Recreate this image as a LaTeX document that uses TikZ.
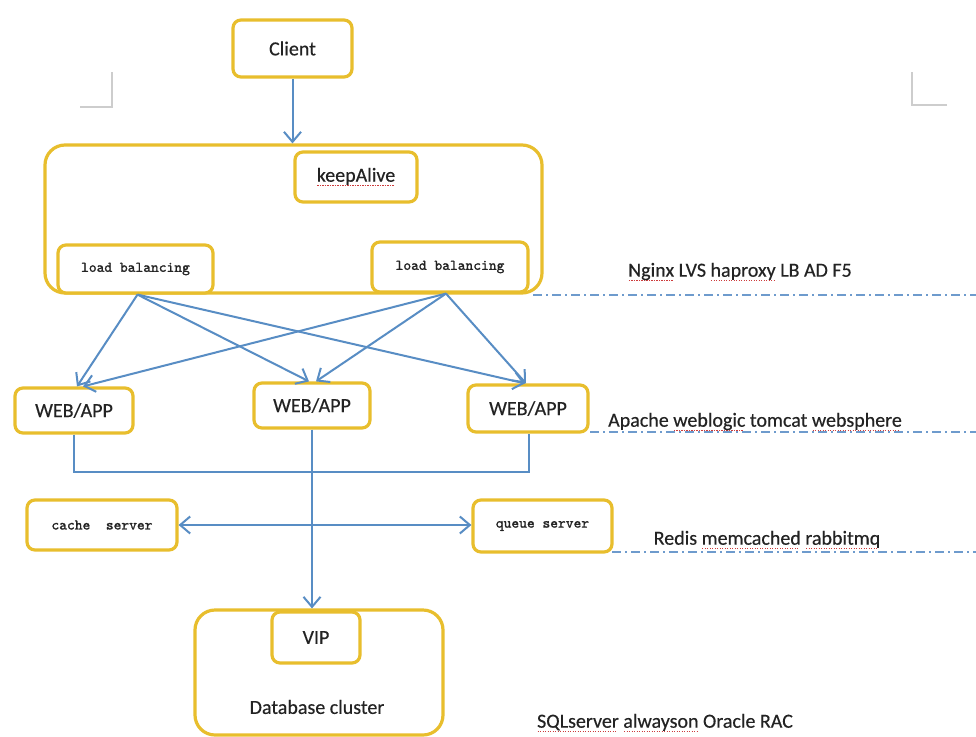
\documentclass[tikz,border=0pt]{standalone}
\usepackage{fontspec}
\setmainfont{Carlito}[FakeBold=0.4]
\newfontfamily\boxmono{lmmono10-regular}[Extension=.otf, FakeBold=1.4]
\usetikzlibrary{arrows.meta}

\definecolor{boxgold}{RGB}{232,190,45}
\definecolor{linkblue}{RGB}{88,141,196}
\definecolor{tierblue}{RGB}{110,155,205}
\definecolor{inkgray}{RGB}{35,35,35}
\definecolor{spellred}{RGB}{205,60,60}
\definecolor{cropgray}{RGB}{205,205,205}

% red dotted proofing underline under a word
\newcommand\spell[1]{\setbox0=\hbox{#1}\rlap{\color{spellred}\leaders\hbox to 2.5pt{\hss\rule[-4.5pt]{1.2pt}{1pt}\hss}\hskip\wd0}\box0\relax}

\tikzset{
  box/.style={draw=boxgold, line width=3.2pt, rounded corners=8pt, fill=white,
    inner sep=0pt, text=inkgray, font=\fontsize{20}{24}\selectfont},
  monobox/.style={box, font=\boxmono\fontsize{14.8}{18}\selectfont},
  group/.style={draw=boxgold, line width=3.2pt, rounded corners=20pt, inner sep=0pt},
  link/.style={draw=linkblue, line width=2pt, -{Straight Barb[length=10pt,width=17pt]}},
  duallink/.style={draw=linkblue, line width=2pt,
    {Straight Barb[length=10pt,width=17pt]}-{Straight Barb[length=10pt,width=17pt]}},
  bus/.style={draw=linkblue, line width=2pt},
  tier/.style={draw=tierblue, line width=1.8pt, dash pattern=on 9pt off 4pt on 2pt off 4pt},
  note/.style={text=inkgray, font=\fontsize{20}{24}\selectfont, inner sep=0pt},
  cropline/.style={draw=cropgray, line width=1.5pt},
}

\begin{document}
\begin{tikzpicture}[x=1pt,y=-1pt]
  \useasboundingbox (0,0) rectangle (976,736);
  \fill[white] (0,0) rectangle (976,736);

  % corner marks
  \draw[cropline] (80,107) -- (112,107) -- (112,72);
  \draw[cropline] (947,105) -- (912,105) -- (912,72);

  % tier separators
  \draw[tier] (533,295) -- (976,295);
  \draw[tier] (590,432) -- (976,432);
  \draw[tier] (612,552) -- (976,552);

  % client
  \node[box, minimum width=119pt, minimum height=57pt] (client) at (292.5,48.5) {Client};

  % load balancing tier
  \node[group, minimum width=497pt, minimum height=148pt] (lbgroup) at (293.5,219) {};
  \node[box, minimum width=122pt, minimum height=50pt] (keepalive) at (356,177) {\spell{keepAlive}};
  \node[monobox, minimum width=155pt, minimum height=48pt] (lbleft) at (135.5,269) {load balancing};
  \node[monobox, minimum width=156pt, minimum height=50pt] (lbright) at (450,267) {load balancing};

  % application tier
  \node[box, minimum width=118pt, minimum height=45pt] (web1) at (74,410.5) {WEB/APP};
  \node[box, minimum width=116pt, minimum height=45pt] (web2) at (312,405.5) {WEB/APP};
  \node[box, minimum width=120pt, minimum height=47pt] (web3) at (528,408.5) {WEB/APP};

  % cache and queue
  \node[monobox, minimum width=150pt, minimum height=50pt] (cache) at (102,525) {cache~~server};
  \node[monobox, minimum width=139pt, minimum height=52pt] (queue) at (542.5,526) {queue server};

  % database tier
  \node[group, minimum width=248pt, minimum height=125pt] (dbgroup) at (319,672.5) {};
  \node[box, minimum width=88pt, minimum height=51pt] (vip) at (316,637.5) {VIP};
  \node[note] (dblabel) at (317,707) {Database cluster};

  % annotations
  \node[note] (lbnote) at (740,272) {\spell{Nginx} LVS \spell{haproxy} LB AD F5};
  \node[note] (webnote) at (755,422) {Apache \spell{weblogic} tomcat \spell{websphere}};
  \node[note] (cachenote) at (767,540) {Redis \spell{memcached} \spell{rabbitmq}};
  \node[note] (dbnote) at (665,723) {\spell{SQLserver} \spell{alwayson} Oracle RAC};

  % connectors
  \draw[link] (client.south) -- (client.south |- lbgroup.north);

  \draw[link] ([xshift=2pt]lbleft.south) -- ([xshift=3pt]web1.north);
  \draw[link] ([xshift=2pt]lbleft.south) -- ([xshift=-3pt]web2.north);
  \draw[link] ([xshift=2pt]lbleft.south) -- ([xshift=-3pt]web3.north);
  \draw[link] ([xshift=-4pt]lbright.south) -- ([xshift=9pt]web1.north);
  \draw[link] ([xshift=-4pt]lbright.south) -- ([xshift=4pt]web2.north);
  \draw[link] ([xshift=-4pt]lbright.south) -- ([xshift=-2pt]web3.north);

  \coordinate (busline) at (0,472);
  \draw[bus] (web1.south) -- (web1.south |- busline) -| ([xshift=1pt]web3.south);

  \draw[link] (web2.south) -- (web2.south |- dbgroup.north);
  \draw[duallink] (cache.east) -- (queue.west |- cache.east);
\end{tikzpicture}
\end{document}
